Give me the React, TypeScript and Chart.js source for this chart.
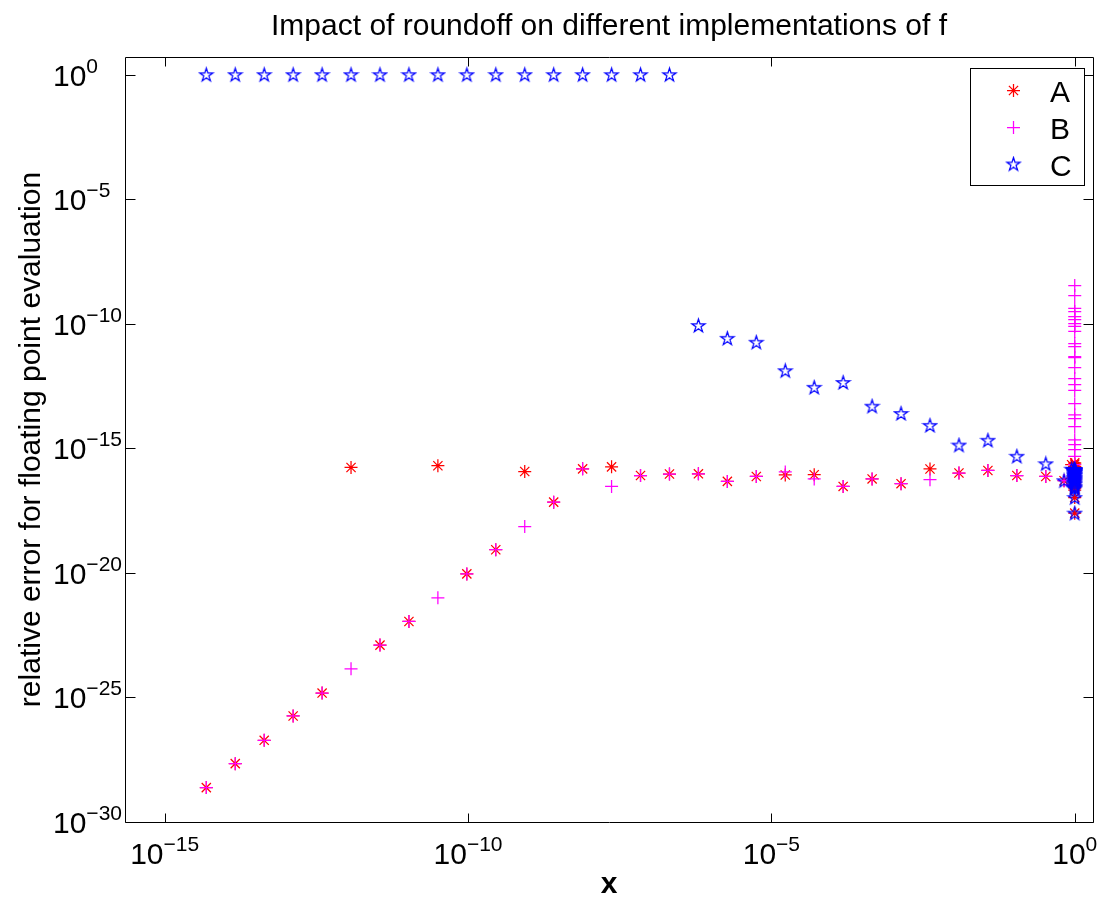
import React, { useEffect, useRef } from 'react';
import { Chart, registerables } from 'chart.js';

Chart.register(...registerables);

const TITLE = 'Impact of roundoff on different implementations of f';
const X_LABEL = 'x';
const Y_LABEL = 'relative error for floating point evaluation';
const SERIES_NAMES = ['A', 'B', 'C'];
const SERIES_COLORS = ['#ff0000', '#ff00ff', '#0000ff'];

const X_TICKS = [1e-15, 1e-10, 1e-5, 1];
const X_TICK_EXP = ['\u221215', '\u221210', '\u22125', '0'];
const Y_TICKS = [1, 1e-5, 1e-10, 1e-15, 1e-20, 1e-25, 1e-30];
const Y_TICK_EXP = ['0', '\u22125', '\u221210', '\u221215', '\u221220', '\u221225', '\u221230'];
const X_MIN = 2.22e-16;
const X_MAX = 2;
const Y_MIN = 1e-30;
const Y_MAX = 5.1;

// x values: small arguments, then arguments approaching 1
const xSmall = [
  4.857e-15, 1.457e-14, 4.371e-14, 1.311e-13, 3.934e-13, 1.18e-12, 3.541e-12, 1.062e-11,
  3.187e-11, 9.561e-11, 2.868e-10, 8.604e-10, 2.581e-9, 7.744e-9, 2.323e-8, 6.969e-8,
  2.091e-7, 6.272e-7, 1.882e-6, 5.645e-6, 1.694e-5, 5.081e-5, 1.524e-4, 4.572e-4,
  1.372e-3, 4.115e-3, 1.235e-2, 3.704e-2, 0.1111, 0.3333,
];
const xNearOne = [
  0.66667, 0.88889, 0.96296, 0.98765, 0.99588, 0.99863, 0.99954, 0.99985, 0.99995, 0.999983,
  0.999994, 0.999998, 0.9999994, 0.9999998, 0.99999993, 0.99999998, 0.999999992, 0.999999997,
  0.999999999, 0.9999999996, 0.9999999999, 0.99999999996, 0.99999999999, 0.999999999996,
  0.999999999999, 0.9999999999996, 0.9999999999999, 0.99999999999996, 0.99999999999999,
  0.999999999999996,
];

const aSmall = [
  2.4e-29, 2.2e-28, 1.9e-27, 1.8e-26, 1.5e-25, 1.7e-16, 1.26e-23, 1.12e-22, 2.0e-16, 9.1e-21,
  8.5e-20, 1.17e-16, 6.9e-18, 1.5e-16, 1.8e-16, 8.1e-17, 9.3e-17, 9.5e-17, 4.7e-17, 7.4e-17,
  8.5e-17, 8.7e-17, 2.95e-17, 5.9e-17, 3.8e-17, 1.48e-16, 1.02e-16, 1.29e-16, 8.1e-17, 7.4e-17,
];
const aNearOne = [
  5.0e-17, 2.2e-16, 1.6e-16, 9e-17, 1.9e-16, 6e-17, 1.3e-16, 4e-17, 2.5e-17, 1.1e-16,
  7e-17, 1.8e-16, 3.2e-17, 5e-17, 1.4e-16, 2.1e-17, 8e-17, 1.05e-17, 2.6e-16, 6.5e-17,
  1.2e-16, 3.5e-17, 1.7e-16, 4.5e-17, 9.5e-17, 2.8e-17, 1.5e-16, 5.5e-17, 2.3e-16, 2.5e-18,
];

const bSmall = [
  2.4e-29, 2.2e-28, 1.9e-27, 1.8e-26, 1.5e-25, 1.41e-24, 1.26e-23, 1.12e-22, 1.0e-21, 9.1e-21,
  8.5e-20, 7.2e-19, 6.9e-18, 1.5e-16, 2.95e-17, 8.1e-17, 9.3e-17, 9.5e-17, 4.7e-17, 7.4e-17,
  1.12e-16, 5.9e-17, 2.95e-17, 5.9e-17, 3.8e-17, 5.5e-17, 1.02e-16, 1.29e-16, 8.1e-17, 7.4e-17,
];
const bNearOne = [
  5.0e-17, 3.5e-17, 6.6e-17, 1.15e-16, 2.2e-16, 4.7e-16, 8.9e-16, 1.4e-15, 2.2e-15, 7.4e-15,
  1.55e-14, 2.2e-14, 6.2e-14, 2.1e-13, 3.6e-13, 6.3e-13, 1.74e-12, 4.4e-12, 4.8e-12, 1.2e-11,
  1.6e-11, 4.9e-11, 7.8e-11, 1.02e-10, 1.48e-10, 1.95e-10, 3.1e-10, 4.1e-10, 1.35e-9, 3.4e-9,
];

const cSmall = [
  1, 1, 1, 1, 1, 1, 1, 1, 1, 1, 1, 1, 1, 1, 1, 1, 1,
  8.5e-11, 2.6e-11, 1.8e-11, 1.3e-12, 2.8e-13, 4.4e-13, 4.9e-14, 2.5e-14, 8.3e-15, 1.35e-15,
  2.1e-15, 4.8e-16, 2.4e-16,
];
const cNearOne = [
  5.0e-17, 1.45e-16, 1.38e-16, 1.0e-16, 1.35e-16, 7e-17, 1.2e-16, 4.5e-17, 3e-17, 1.3e-16,
  8e-17, 1.05e-16, 3.6e-17, 5.5e-17, 1.1e-16, 2.4e-17, 9e-17, 1.05e-17, 1.25e-16, 6e-17,
  1.4e-16, 4e-17, 1.15e-16, 5e-17, 8.5e-17, 2.7e-17, 1.3e-16, 6.5e-17, 1.4e-16, 2.5e-18,
];

const FONT = "'Liberation Sans', Arial, Helvetica, sans-serif";
const BASE_PX = 30;
const SUP_PX = 21;
const MARK_W = 1.25;

function makePentagram(color: string): HTMLCanvasElement {
  const c = document.createElement('canvas');
  c.width = 17;
  c.height = 17;
  const g = c.getContext('2d')!;
  const cx = 8.5;
  const cy = 9;
  const R = 7;
  const r = R * 0.382;
  g.beginPath();
  for (let i = 0; i < 10; i++) {
    const rad = i % 2 === 0 ? R : r;
    const ang = -Math.PI / 2 + (i * Math.PI) / 5;
    const px = cx + rad * Math.cos(ang);
    const py = cy + rad * Math.sin(ang);
    if (i === 0) g.moveTo(px, py);
    else g.lineTo(px, py);
  }
  g.closePath();
  g.strokeStyle = color;
  g.lineWidth = 1.25;
  g.stroke();
  return c;
}

function zip(xs: number[], ys: number[]) {
  return xs.map((x, i) => ({ x, y: ys[i] }));
}

function drawPow(ctx: CanvasRenderingContext2D, x: number, baseline: number, exp: string, align: 'center' | 'left') {
  ctx.font = `${BASE_PX}px ${FONT}`;
  const wb = ctx.measureText('10').width;
  ctx.font = `${SUP_PX}px ${FONT}`;
  const ws = ctx.measureText(exp).width;
  const start = align === 'center' ? x - (wb + ws) / 2 : x;
  ctx.textAlign = 'left';
  ctx.textBaseline = 'alphabetic';
  ctx.font = `${BASE_PX}px ${FONT}`;
  ctx.fillText('10', start, baseline);
  ctx.font = `${SUP_PX}px ${FONT}`;
  ctx.fillText(exp, start + wb, baseline - 13);
}

export default function App() {
  const ref = useRef<HTMLCanvasElement | null>(null);

  useEffect(() => {
    if (!ref.current) return;
    const star = makePentagram(SERIES_COLORS[2]);
    const legendStar = makePentagram(SERIES_COLORS[2]);

    const framePlugin = {
      id: 'matlabFrame',
      afterDraw(chart: any) {
        const ctx: CanvasRenderingContext2D = chart.ctx;
        const a = chart.chartArea;
        const xs = chart.scales.x;
        const ys = chart.scales.y;
        ctx.save();
        ctx.strokeStyle = '#000';
        ctx.fillStyle = '#000';
        ctx.lineWidth = 1;
        const L = Math.round(a.left) + 0.5;
        const R = Math.round(a.right) + 0.5;
        const T = Math.round(a.top) + 0.5;
        const B = Math.round(a.bottom) + 0.5;
        ctx.beginPath();
        ctx.rect(L, T, R - L, B - T);
        ctx.stroke();
        // tick marks (inside)
        ctx.beginPath();
        xs.ticks.forEach((t: any) => {
          const px = Math.round(xs.getPixelForValue(t.value)) + 0.5;
          ctx.moveTo(px, B);
          ctx.lineTo(px, B - 9);
          ctx.moveTo(px, T);
          ctx.lineTo(px, T + 9);
        });
        ys.ticks.forEach((t: any) => {
          const py = Math.round(ys.getPixelForValue(t.value)) + 0.5;
          ctx.moveTo(L, py);
          ctx.lineTo(L + 10, py);
          ctx.moveTo(R, py);
          ctx.lineTo(R - 10, py);
        });
        ctx.stroke();
        // tick labels
        xs.ticks.forEach((t: any, i: number) => {
          const px = xs.getPixelForValue(t.value);
          drawPow(ctx, px, 864, X_TICK_EXP[i], 'center');
        });
        ys.ticks.forEach((t: any, i: number) => {
          const py = ys.getPixelForValue(t.value);
          drawPow(ctx, 53, py + 11, Y_TICK_EXP[i], 'left');
        });
        // title
        ctx.font = `${BASE_PX}px ${FONT}`;
        ctx.textAlign = 'center';
        ctx.textBaseline = 'alphabetic';
        ctx.fillText(TITLE, (a.left + a.right) / 2, 35);
        // x label
        ctx.font = `bold ${BASE_PX}px ${FONT}`;
        ctx.fillText(X_LABEL, (a.left + a.right) / 2, 893);
        // y label
        ctx.save();
        ctx.translate(40, (a.top + a.bottom) / 2);
        ctx.rotate(-Math.PI / 2);
        ctx.font = `${BASE_PX}px ${FONT}`;
        ctx.textAlign = 'center';
        ctx.textBaseline = 'alphabetic';
        ctx.fillText(Y_LABEL, 0, 0);
        ctx.restore();
        // legend
        const lx = 970.5, ly = 68.5, lw = 114, lh = 117;
        ctx.fillStyle = '#fff';
        ctx.fillRect(lx, ly, lw, lh);
        ctx.strokeStyle = '#000';
        ctx.lineWidth = 1;
        ctx.strokeRect(lx, ly, lw, lh);
        const rows = [90.5, 127.5, 164.5];
        const mx = 1013.5;
        ctx.lineWidth = MARK_W;
        // A asterisk
        ctx.strokeStyle = SERIES_COLORS[0];
        ctx.beginPath();
        const r = 6.5;
        for (let k = 0; k < 4; k++) {
          const ang = (k * Math.PI) / 4;
          ctx.moveTo(mx - r * Math.cos(ang), rows[0] - r * Math.sin(ang));
          ctx.lineTo(mx + r * Math.cos(ang), rows[0] + r * Math.sin(ang));
        }
        ctx.stroke();
        // B plus
        ctx.strokeStyle = SERIES_COLORS[1];
        ctx.beginPath();
        ctx.moveTo(mx - r, rows[1]);
        ctx.lineTo(mx + r, rows[1]);
        ctx.moveTo(mx, rows[1] - r);
        ctx.lineTo(mx, rows[1] + r);
        ctx.stroke();
        // C star
        ctx.drawImage(legendStar, mx - 8.5, rows[2] - 9);
        ctx.fillStyle = '#000';
        ctx.font = `${BASE_PX}px ${FONT}`;
        ctx.textAlign = 'left';
        ctx.textBaseline = 'alphabetic';
        SERIES_NAMES.forEach((n, i) => {
          ctx.fillText(n, 1050, rows[i] + 11);
        });
        ctx.restore();
      },
    };

    const chart = new Chart(ref.current, {
      type: 'scatter',
      data: {
        datasets: [
          {
            label: SERIES_NAMES[0],
            data: zip([...xSmall, ...xNearOne], [...aSmall, ...aNearOne]),
            pointStyle: 'star',
            radius: 6.5,
            borderColor: SERIES_COLORS[0],
            backgroundColor: SERIES_COLORS[0],
            borderWidth: MARK_W,
            order: 2,
          },
          {
            label: SERIES_NAMES[1],
            data: zip([...xSmall, ...xNearOne], [...bSmall, ...bNearOne]),
            pointStyle: 'cross',
            radius: 6.5,
            borderColor: SERIES_COLORS[1],
            backgroundColor: SERIES_COLORS[1],
            borderWidth: MARK_W,
            order: 1,
          },
          {
            label: SERIES_NAMES[2],
            data: zip([...xSmall, ...xNearOne], [...cSmall, ...cNearOne]),
            pointStyle: star,
            radius: 7,
            borderColor: SERIES_COLORS[2],
            backgroundColor: SERIES_COLORS[2],
            borderWidth: 1,
            order: 0,
          },
        ] as any,
      },
      options: {
        animation: false,
        responsive: false,
        devicePixelRatio: 1,
        events: [],
        layout: { padding: { top: 57, right: 7, left: 0, bottom: 0 } },
        plugins: {
          legend: { display: false },
          title: { display: false },
          tooltip: { enabled: false },
        },
        scales: {
          x: {
            type: 'logarithmic',
            min: X_MIN,
            max: X_MAX,
            grid: { display: false },
            border: { display: false },
            ticks: { display: false },
            afterBuildTicks: (s: any) => {
              s.ticks = X_TICKS.map((v) => ({ value: v }));
            },
            afterFit: (s: any) => {
              s.height = 81;
            },
          },
          y: {
            type: 'logarithmic',
            min: Y_MIN,
            max: Y_MAX,
            grid: { display: false },
            border: { display: false },
            ticks: { display: false },
            afterBuildTicks: (s: any) => {
              s.ticks = Y_TICKS.map((v) => ({ value: v }));
            },
            afterFit: (s: any) => {
              s.width = 125;
            },
          },
        },
      } as any,
      plugins: [framePlugin],
    });
    return () => chart.destroy();
  }, []);

  return (
    <div style={{ position: 'absolute', left: 0, top: 0, width: 1101, height: 903, background: '#fff' }}>
      <canvas ref={ref} width={1101} height={903} style={{ display: 'block' }} />
    </div>
  );
}
